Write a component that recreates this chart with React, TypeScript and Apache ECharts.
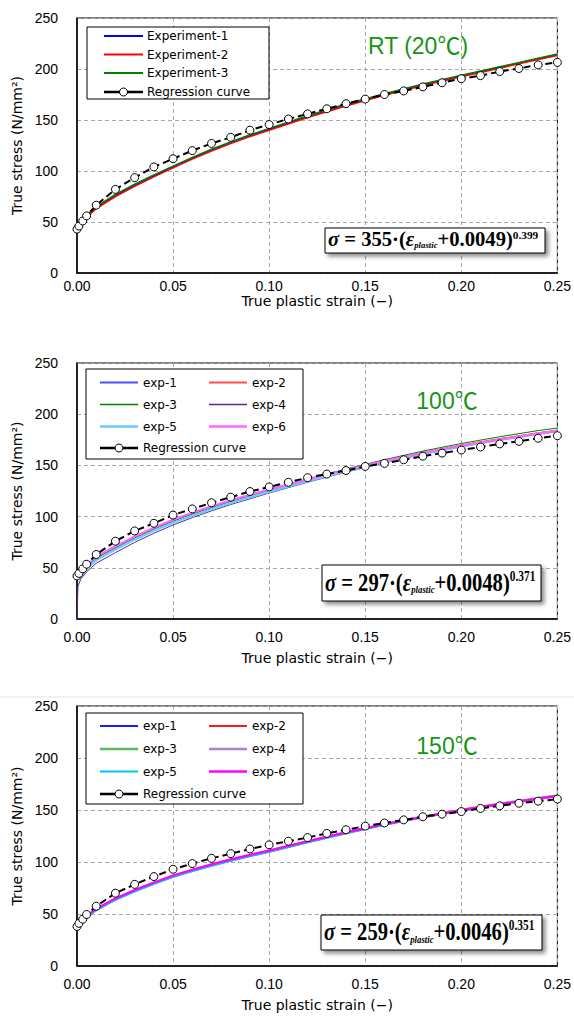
import React, { useEffect, useRef } from "react";
import * as echarts from "echarts";

// ---------- data ----------
const regStrain = [0, 0.001, 0.003, 0.005, 0.01, 0.02, 0.03, 0.04, 0.05, 0.06, 0.07, 0.08, 0.09, 0.1, 0.11, 0.12, 0.13, 0.14, 0.15, 0.16, 0.17, 0.18, 0.19, 0.2, 0.21, 0.22, 0.23, 0.24, 0.25];
const rtReg = [43, 46, 51, 56, 66.5, 82, 93.5, 104, 112, 120, 127, 133, 140, 145.5, 151, 156, 161, 166, 170.5, 175, 178.5, 182.5, 186.5, 190.5, 193.5, 197.5, 200.5, 204, 206.5];
const t100Reg = [42, 44.5, 49, 53.5, 63, 76, 86, 93.5, 101.5, 107.5, 113.5, 119, 124.5, 129, 133.5, 138, 141.5, 145, 149, 152, 155.5, 159, 162, 165, 168, 171, 173.5, 176.5, 179];
const t150Reg = [38, 41, 45, 49.5, 57.5, 70, 78.5, 86, 93, 98.5, 103.5, 108, 112.5, 116.5, 120, 123.5, 127.5, 131, 134.5, 137.5, 140.5, 143.5, 146, 148.5, 151.5, 154, 156.5, 158.5, 160.5];

const rtStrain = [0.004, 0.01, 0.02, 0.03, 0.04, 0.05, 0.06, 0.07, 0.08, 0.09, 0.1, 0.12, 0.14, 0.16, 0.18, 0.2, 0.22, 0.24, 0.25];
const rtExp1 = [54, 64, 76, 86, 95.3, 104, 112.6, 120.5, 127.8, 134.7, 141, 153.4, 164.8, 175, 184.5, 193, 201.5, 210, 214];
const rtExp2 = [53, 63, 75, 85, 94.3, 103, 111.6, 119.5, 126.8, 133.7, 140, 152.4, 163.8, 174.2, 183.7, 192.3, 200.8, 209.3, 213.3];
const rtExp3 = [55, 65, 77, 87, 96.2, 104.8, 113.4, 121.3, 128.6, 135.5, 141.8, 154.2, 165.6, 175.8, 185.2, 193.8, 202.2, 210.6, 214.8];

const t100Strain = [0, 0.0005, 0.002, 0.005, 0.01, 0.02, 0.03, 0.04, 0.05, 0.06, 0.07, 0.08, 0.1, 0.12, 0.14, 0.16, 0.18, 0.2, 0.22, 0.24, 0.25];
const t100Exp1 = [null, null, 44, 51, 60, 70.2, 79.8, 88.4, 96.2, 103, 109.3, 115.3, 125.9, 135.9, 145.2, 154, 162.1, 169.2, 175.4, 181.3, 184];
const t100Exp2 = [null, null, 44.5, 51.5, 60.5, 70.6, 80.2, 88.8, 96.6, 103.4, 109.7, 115.7, 126.3, 136.3, 145.6, 154.3, 162.4, 169.5, 175.8, 181.5, 184.2];
const t100Exp3 = [null, null, 43.5, 50.5, 59.5, 69.6, 79.2, 87.8, 95.6, 102.5, 109, 115, 126, 136.5, 146.5, 155.6, 164, 171.4, 178, 184, 186.5];
const t100Exp4 = [0, 32, 39, 46, 54.5, 64.8, 74.8, 83.7, 91.8, 99, 105.6, 111.8, 123, 133.6, 143.4, 152.5, 160.8, 168.2, 174.8, 180.6, 183.2];
const t100Exp5 = [null, null, 42, 49, 57.5, 67.8, 77.5, 86.2, 94, 100.9, 107.3, 113.3, 124.2, 134.6, 144.2, 153.2, 161.4, 168.6, 175, 180.8, 183.4];
const t100Exp6 = [null, null, 45, 52, 61, 71, 80.6, 89.2, 97, 103.8, 110.1, 116, 126.5, 136.3, 145.5, 154.2, 162.2, 169.2, 175.2, 181, 183.6];

const t150Strain = [0.004, 0.01, 0.02, 0.03, 0.04, 0.05, 0.06, 0.07, 0.08, 0.09, 0.1, 0.12, 0.14, 0.16, 0.18, 0.2, 0.22, 0.24, 0.25];
const t150Exp1 = [46.5, 54.5, 64.5, 72.5, 79.8, 86.5, 92.1, 97.2, 102, 106.4, 110.6, 119.7, 128.3, 136.2, 143.3, 149.9, 155.8, 161.2, 163.8];
const t150Exp2 = [47, 55, 65, 73, 80.2, 86.9, 92.5, 97.6, 102.4, 106.8, 111, 120.1, 128.7, 136.6, 143.7, 150.2, 156.1, 161.4, 164];
const t150Exp3 = [46.2, 54.2, 64.2, 72.2, 79.5, 86.2, 91.8, 96.9, 101.7, 106.1, 110.3, 119.5, 128.2, 136.2, 143.4, 150, 156, 161.4, 164];
const t150Exp4 = [46, 54, 64, 72, 79.3, 86, 91.6, 96.7, 101.5, 105.9, 110, 119.2, 127.9, 135.9, 143.1, 149.7, 155.7, 161, 163.6];
const t150Exp5 = [45.5, 53.5, 63.5, 71.5, 78.8, 85.5, 91.1, 96.2, 101, 105.4, 109.6, 118.8, 127.5, 135.5, 142.7, 149.3, 155.3, 160.6, 163.2];
const t150Exp6 = [47, 55, 65, 73, 80.3, 87, 92.6, 97.7, 102.5, 106.9, 111, 120, 128.5, 136.3, 143.3, 149.8, 155.6, 160.9, 163.4];

const xTicks = [0, 0.05, 0.1, 0.15, 0.2, 0.25];
const yTicks = [0, 50, 100, 150, 200, 250];

const rtNames = ["Experiment-1", "Experiment-2", "Experiment-3"];
const expNames = ["exp-1", "exp-2", "exp-3", "exp-4", "exp-5", "exp-6"];
const regName = "Regression curve";
const titles = ["RT (20℃)", "100℃", "150℃"];
const formulas = [
  { coef: "355", off: "0.0049", exp: "0.399" },
  { coef: "297", off: "0.0048", exp: "0.371" },
  { coef: "259", off: "0.0046", exp: "0.351" },
];
const xName = "True plastic strain (−)";
const yName = "True stress (N/mm²)";

// ---------- styles / layout ----------
const SANS = '"Liberation Sans", "Noto Sans CJK JP", sans-serif';
const DEJA = '"DejaVu Sans", sans-serif';
const SERIF = '"Liberation Serif", "DejaVu Serif", serif';
const GREEN = "#179317";

const panels = [
  {
    grid: { left: 77, top: 18, width: 485, height: 255 },
    labelMargin: 6, nameGap: 20,
    title: { x: 418, y: 46 },
    legend: { x: 87, y: 27, w: 182, h: 72 },
    formula: { x: 325, y: 228, w: 220, h: 25, scaleY: 1 },
    names: rtNames,
    strain: rtStrain,
    exps: [rtExp1, rtExp2, rtExp3],
    colors: ["#0000ff", "#ff0000", "#008000"],
    widths: [1.5, 1.5, 1.5],
    reg: rtReg,
  },
  {
    grid: { left: 77, top: 363, width: 485, height: 256 },
    labelMargin: 11, nameGap: 32,
    title: { x: 447, y: 401 },
    legend: { x: 86, y: 369, w: 217, h: 90 },
    formula: { x: 322, y: 565, w: 219, h: 36, scaleY: 1.3 },
    names: expNames,
    strain: t100Strain,
    exps: [t100Exp1, t100Exp2, t100Exp3, t100Exp4, t100Exp5, t100Exp6],
    colors: ["#4d4dff", "#ff4d4d", "#008000", "#5b2c8f", "#66ccff", "#ff66ff"],
    widths: [1.8, 1.8, 1, 1, 2.2, 2.2],
    reg: t100Reg,
  },
  {
    grid: { left: 77, top: 706, width: 485, height: 260 },
    labelMargin: 11, nameGap: 32,
    title: { x: 447, y: 746 },
    legend: { x: 86, y: 713, w: 217, h: 91 },
    formula: { x: 321, y: 915, w: 221, h: 35, scaleY: 1.3 },
    names: expNames,
    strain: t150Strain,
    exps: [t150Exp1, t150Exp2, t150Exp3, t150Exp4, t150Exp5, t150Exp6],
    colors: ["#1a1aff", "#ff1a1a", "#5cb85c", "#a585cc", "#00c0ff", "#ff00ff"],
    widths: [1.5, 1.5, 2.4, 2.4, 1.5, 2.2],
    reg: t150Reg,
  },
];

function buildOption() {
  const grids: any[] = [];
  const xAxes: any[] = [];
  const yAxes: any[] = [];
  const series: any[] = [];
  const graphic: any[] = [];

  graphic.push({
    type: "line",
    shape: { x1: 0, y1: 697, x2: 574, y2: 697 },
    style: { stroke: "#e2e2e2", lineWidth: 1 },
    silent: true,
  });

  panels.forEach((p, i) => {
    grids.push({ ...p.grid, show: true, borderColor: "#000", borderWidth: 1, backgroundColor: "#fff" });
    xAxes.push({
      type: "value",
      gridIndex: i,
      min: xTicks[0],
      max: xTicks[xTicks.length - 1],
      interval: xTicks[1] - xTicks[0],
      name: xName,
      nameLocation: "middle",
      nameGap: p.nameGap,
      nameTextStyle: { fontFamily: DEJA, fontSize: 14, color: "#000" },
      axisLine: { lineStyle: { color: "#000", width: 1.5 } },
      axisTick: { show: false },
      axisLabel: { fontFamily: SANS, fontSize: 14, color: "#000", margin: p.labelMargin, formatter: (v: number) => v.toFixed(2) },
      splitLine: { show: true, lineStyle: { color: "#a8a8a8", type: [4, 3], width: 1 } },
    });
    yAxes.push({
      type: "value",
      gridIndex: i,
      min: yTicks[0],
      max: yTicks[yTicks.length - 1],
      interval: yTicks[1] - yTicks[0],
      name: yName,
      nameLocation: "middle",
      nameGap: 53,
      nameTextStyle: { fontFamily: DEJA, fontSize: 14, color: "#000" },
      axisLine: { show: true, lineStyle: { color: "#000", width: 1.5 } },
      axisTick: { show: false },
      axisLabel: { fontFamily: SANS, fontSize: 14, color: "#000", margin: 19 },
      splitLine: { show: true, lineStyle: { color: "#a8a8a8", type: [4, 3], width: 1 } },
    });

    p.exps.forEach((vals, k) => {
      series.push({
        type: "line",
        name: p.names[k],
        xAxisIndex: i,
        yAxisIndex: i,
        data: p.strain.map((x, j) => [x, vals[j] == null ? "-" : vals[j]]),
        symbol: "none",
        smooth: false,
        lineStyle: { color: p.colors[k], width: p.widths[k], join: "round" },
        itemStyle: { color: p.colors[k] },
        z: 2 + k * 0.01,
      });
    });
    series.push({
      type: "line",
      name: regName,
      xAxisIndex: i,
      yAxisIndex: i,
      data: regStrain.map((x, j) => [x, p.reg[j]]),
      symbol: "circle",
      symbolSize: 8,
      showSymbol: true,
      itemStyle: { color: "#fff", borderColor: "#000", borderWidth: 1 },
      lineStyle: { color: "#000", width: 2, type: [7, 4] },
      z: 5,
    });

    // title
    graphic.push({
      type: "text",
      x: p.title.x,
      y: p.title.y,
      z: 100,
      style: { text: titles[i], fill: GREEN, fontFamily: SANS, fontSize: 23, textAlign: "center", textVerticalAlign: "middle" },
    });

    // legend box
    const L = p.legend;
    graphic.push({
      type: "rect",
      z: 100,
      shape: { x: L.x, y: L.y, width: L.w, height: L.h },
      style: { fill: "#fff", stroke: "#000", lineWidth: 1 },
    });
    const items: { name: string; color: string; width: number; x1: number; x2: number; tx: number; y: number }[] = [];
    let regRow = { x1: 104, x2: 143, tx: 147, y: 92 };
    if (i === 0) {
      const rows = [36, 54.5, 73];
      p.names.forEach((n, k) => items.push({ name: n, color: p.colors[k], width: p.widths[k], x1: 104, x2: 143, tx: 147, y: rows[k] }));
    } else {
      const rows = i === 1 ? [382.5, 404.5, 426.5, 448] : [726, 749, 771.5, 794];
      p.names.forEach((n, k) => {
        const col = k % 2;
        const row = Math.floor(k / 2);
        items.push({
          name: n,
          color: p.colors[k],
          width: p.widths[k],
          x1: col === 0 ? 100 : 209,
          x2: col === 0 ? 138 : 247,
          tx: col === 0 ? 143 : 252,
          y: rows[row],
        });
      });
      regRow = { x1: 100, x2: 138, tx: 143, y: rows[3] };
    }
    items.forEach((it) => {
      graphic.push({
        type: "line",
        z: 101,
        shape: { x1: it.x1, y1: it.y, x2: it.x2, y2: it.y },
        style: { stroke: it.color, lineWidth: it.width + 0.3 },
      });
      graphic.push({
        type: "text",
        z: 101,
        x: it.tx,
        y: it.y,
        style: { text: it.name, fill: "#000", fontFamily: DEJA, fontSize: 12, textVerticalAlign: "middle" },
      });
    });
    graphic.push({
      type: "line",
      z: 101,
      shape: { x1: regRow.x1, y1: regRow.y, x2: regRow.x2, y2: regRow.y },
      style: { stroke: "#000", lineWidth: 2.6 },
    });
    graphic.push({
      type: "circle",
      z: 102,
      shape: { cx: (regRow.x1 + regRow.x2) / 2, cy: regRow.y, r: 4 },
      style: { fill: "#fff", stroke: "#000", lineWidth: 1 },
    });
    graphic.push({
      type: "text",
      z: 101,
      x: regRow.tx,
      y: regRow.y,
      style: { text: regName, fill: "#000", fontFamily: DEJA, fontSize: 12, textVerticalAlign: "middle" },
    });

    // formula box
    const F = p.formula;
    const f = formulas[i];
    graphic.push({
      type: "rect",
      z: 100,
      shape: { x: F.x, y: F.y, width: F.w, height: F.h },
      style: {
        fill: "#fff",
        stroke: "#000",
        lineWidth: 1,
        shadowBlur: 4,
        shadowOffsetX: 3,
        shadowOffsetY: 3,
        shadowColor: "rgba(0,0,0,0.45)",
      },
    });
    const base = { fontFamily: SERIF, fontWeight: "bold", fill: "#000" };
    graphic.push({
      type: "text",
      z: 101,
      x: F.x + 3,
      y: F.y + F.h / 2 - 1,
      scaleX: 1.03,
      scaleY: F.scaleY,
      style: {
        text: `{s|σ}{m| = ${f.coef}·(}{s|ε}{sub|plastic}{m|+${f.off})}{sup|${f.exp}}`,
        fill: "#000",
        textVerticalAlign: "middle",
        rich: {
          s: { ...base, fontSize: 20, fontStyle: "italic", lineHeight: 20 },
          m: { ...base, fontSize: 20, lineHeight: 20 },
          sub: { ...base, fontSize: 8.5, fontStyle: "italic", lineHeight: 14.8, verticalAlign: "bottom" },
          sup: { ...base, fontSize: 11, lineHeight: 10, verticalAlign: "top" },
        },
      },
    });
  });

  return {
    animation: false,
    backgroundColor: "#fff",
    grid: grids,
    xAxis: xAxes,
    yAxis: yAxes,
    series,
    graphic: { elements: graphic },
  };
}

export default function App() {
  const ref = useRef<HTMLDivElement>(null);
  useEffect(() => {
    if (!ref.current) return;
    const chart = echarts.init(ref.current, null, { renderer: "svg" });
    chart.setOption(buildOption() as any);
    return () => chart.dispose();
  }, []);
  return (
    <div
      ref={ref}
      style={{ position: "absolute", left: 0, top: 0, width: 574, height: 1020, background: "#fff" }}
    />
  );
}
